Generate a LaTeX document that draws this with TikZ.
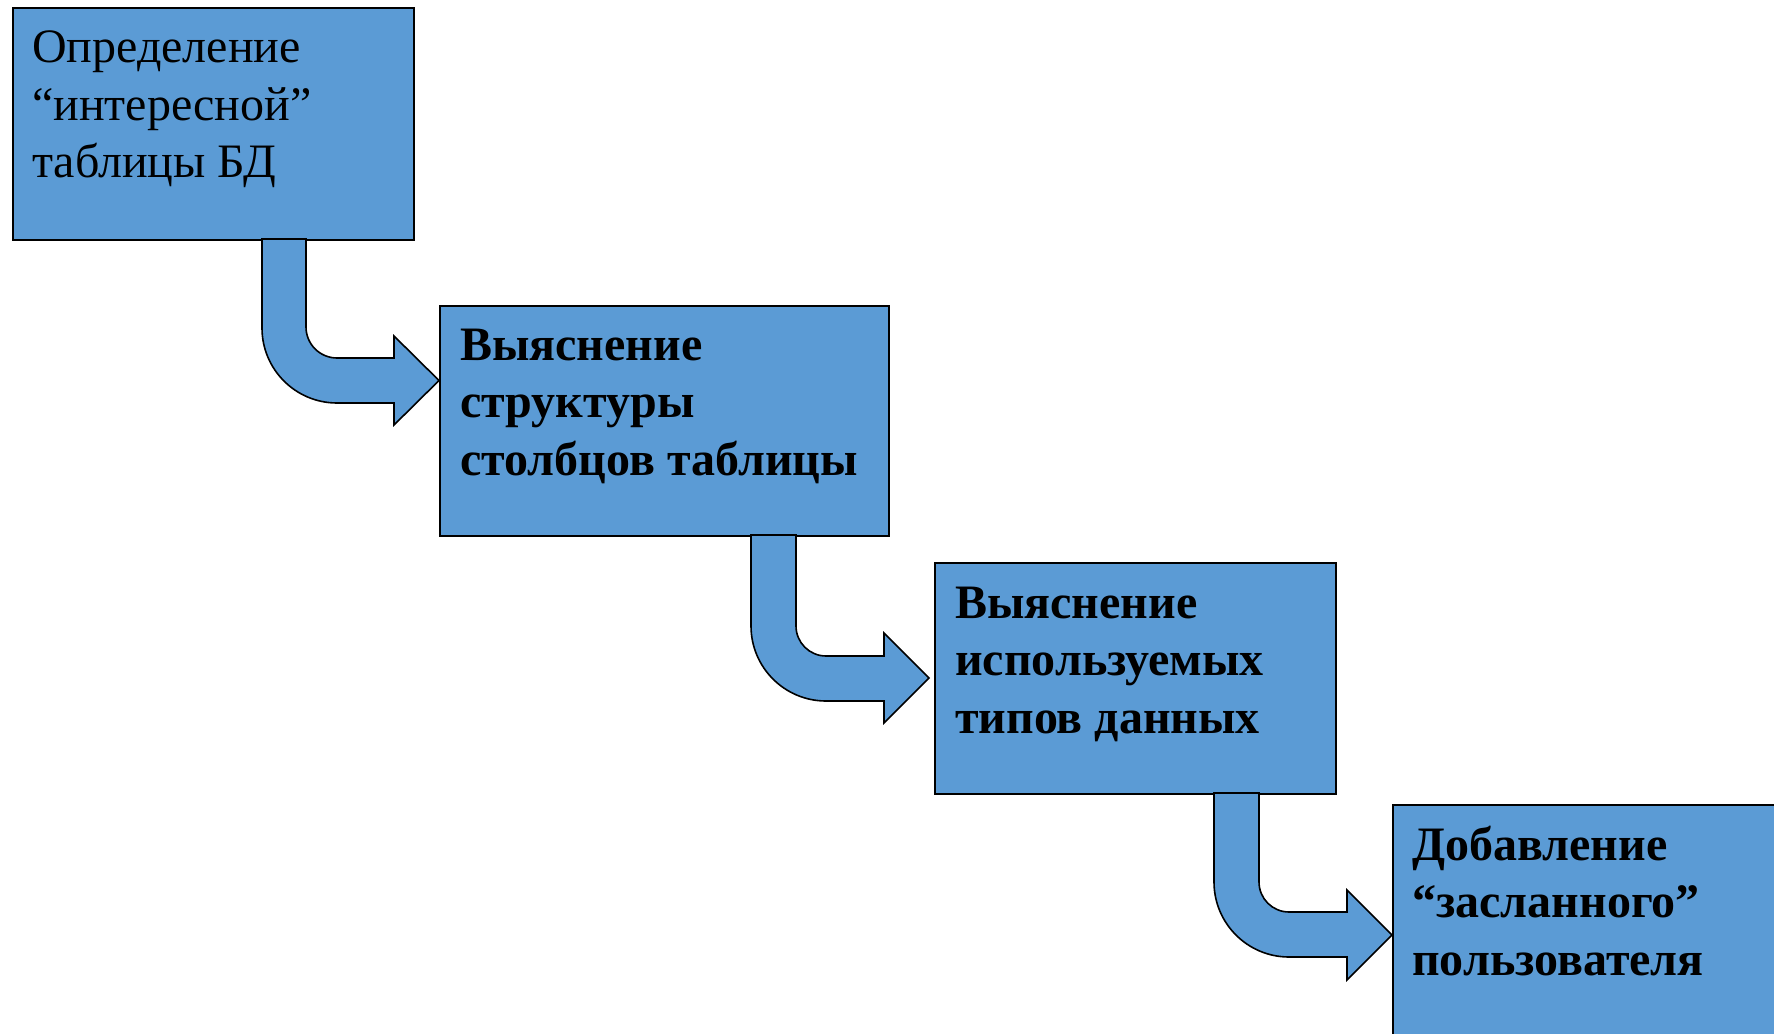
\documentclass[tikz,border=0pt]{standalone}
\usepackage{fontspec}
\setmainfont{Liberation Serif}
\definecolor{boxblue}{RGB}{91,155,213}
\tikzset{
  stepbox/.style={draw=black, line width=1.6pt, fill=boxblue, rectangle, inner sep=0pt, anchor=north west},
  blockarrow/.style={draw=black, line width=1.6pt, fill=boxblue, line join=miter},
  steptext/.style={anchor=base west, inner sep=0pt, align=left}
}
% #1 xl, #2 xr, #3 ytop, #4 shaft top, #5 shaft bottom, #6 head x, #7 head top, #8 head bottom, #9 inner radius
\newcommand{\bentblock}[9]{%
  \draw[blockarrow] ({#1},{#3}) -- ({#1},{#5-(#9+#2-#1)})
    .. controls ({#1},{#5-0.448*(#9+#2-#1)}) and ({#1+0.448*(#9+#2-#1)},{#5}) .. ({#1+#9+#2-#1},{#5})
    -- ({#6},{#5}) -- ({#6},{#8}) -- ({#6+45},{(#7+#8)/2}) -- ({#6},{#7}) -- ({#6},{#4})
    -- ({#2+#9},{#4})
    .. controls ({#2+0.448*#9},{#4}) and ({#2},{#4-0.448*#9}) .. ({#2},{#4-#9})
    -- ({#2},{#3}) -- cycle;}
\newcommand{\lines}[1]{\fontsize{48}{57.5}\selectfont\vtop{\baselineskip=57.5pt #1}}
\begin{document}
\begin{tikzpicture}[x=1pt,y=-1pt]
\useasboundingbox (0,0) rectangle (1774,1033);
\clip (0,0) rectangle (1774,1033);

% boxes
\node[stepbox, minimum width=401pt, minimum height=232pt] (b1) at (12,7) {};
\node[stepbox, minimum width=449pt, minimum height=230pt] (b2) at (439,305) {};
\node[stepbox, minimum width=401pt, minimum height=231pt] (b3) at (934,562) {};
\node[stepbox, minimum width=420pt, minimum height=260pt] (b4) at (1392,804) {};

% arrows
\bentblock{262}{306}{239}{358}{403}{394}{336}{425}{31}
\bentblock{751}{796}{535}{656}{701}{884}{633}{723}{30}
\bentblock{1214}{1259}{793}{912}{957}{1347}{890}{980}{30}

% texts
\node[steptext] (t1) at (32,63) {\lines{\hbox{Определение}\hbox{“интересной”}\hbox{таблицы БД}}};
\node[steptext] (t2) at (460,360) {\lines{\bfseries\hbox{Выяснение}\hbox{структуры}\hbox{столбцов таблицы}}};
\node[steptext] (t3) at (955,618) {\lines{\bfseries\hbox{Выяснение}\hbox{используемых}\hbox{типов данных}}};
\node[steptext] (t4) at (1412,860) {\lines{\bfseries\hbox{Добавление}\hbox{“засланного”}\hbox{пользователя}}};
\end{tikzpicture}
\end{document}
